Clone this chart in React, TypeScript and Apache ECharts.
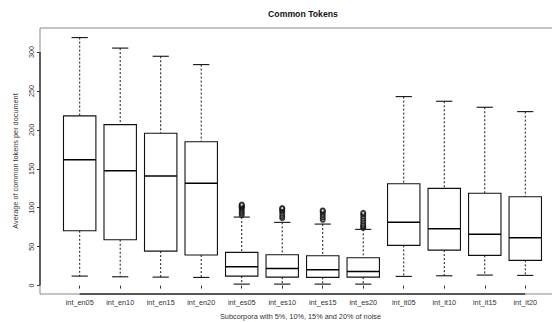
import React, { useEffect, useRef } from "react";
import * as echarts from "echarts";

const categories = [
  "int_en05", "int_en10", "int_en15", "int_en20",
  "int_es05", "int_es10", "int_es15", "int_es20",
  "int_it05", "int_it10", "int_it15", "int_it20",
];
const lowerWhisker = [12.2, 11.3, 10.9, 10.5, 1.9, 1.9, 1.9, 1.9, 11.8, 12.6, 13.5, 13.1];
const firstQuartile = [70.4, 58.9, 44.3, 39.2, 12.2, 10.9, 10.5, 10.9, 51.6, 45.6, 38.8, 32.4];
const medians = [161.7, 147.6, 140.7, 131.3, 24.2, 22.1, 20.3, 18.2, 81.2, 73.0, 65.8, 61.4];
const thirdQuartile = [218.0, 206.7, 195.6, 184.8, 42.7, 39.6, 38.3, 35.8, 130.8, 124.9, 118.5, 114.1];
const upperWhisker = [318.5, 305.0, 294.5, 283.8, 88.0, 81.2, 79.0, 72.2, 242.7, 236.7, 229.0, 223.4];

const outliersEs05 = [90.5, 93, 95.5, 98, 100, 101, 102, 103, 104];
const outliersEs10 = [86.5, 89, 92, 95, 97, 98.5, 99.5];
const outliersEs15 = [84.5, 87.5, 90.5, 93.5, 95.5, 96.5];
const outliersEs20 = [74, 75.5, 77, 79.5, 82.5, 85.5, 88.5, 91.5, 93.5];

const yTicks = [0, 50, 100, 150, 200, 250, 300];

// visible axis range (the plot region continues past the right edge of the picture)
const xRange = [0.02, 12.66];
const yRange = [-10.8, 330.8];

const FONT = "'Liberation Sans', Arial, Helvetica, sans-serif";

export default function App() {
  const ref = useRef<HTMLDivElement>(null);

  useEffect(() => {
    if (!ref.current) return;
    const chart = echarts.init(ref.current, undefined, { renderer: "svg" });

    const positions = categories.map((_, i) => i + 1);
    const boxData = categories.map((_, i) => [
      positions[i],
      lowerWhisker[i],
      firstQuartile[i],
      medians[i],
      thirdQuartile[i],
      upperWhisker[i],
    ]);
    const outlierGroups: [number, number[]][] = [
      [5, outliersEs05],
      [6, outliersEs10],
      [7, outliersEs15],
      [8, outliersEs20],
    ];
    const outlierData: number[][] = [];
    outlierGroups.forEach(([pos, vals]) => vals.forEach((v) => outlierData.push([pos, v])));

    const halfBox = 0.4;
    const halfCap = 0.2;

    const renderBox = (params: any, api: any) => {
      const x = api.value(0);
      const lo = api.value(1);
      const q1 = api.value(2);
      const med = api.value(3);
      const q3 = api.value(4);
      const hi = api.value(5);
      const tl = api.coord([x - halfBox, q3]);
      const br = api.coord([x + halfBox, q1]);
      const mL = api.coord([x - halfBox, med]);
      const mR = api.coord([x + halfBox, med]);
      const cTop = api.coord([x, hi]);
      const cQ3 = api.coord([x, q3]);
      const cQ1 = api.coord([x, q1]);
      const cBot = api.coord([x, lo]);
      const capTL = api.coord([x - halfCap, hi]);
      const capTR = api.coord([x + halfCap, hi]);
      const capBL = api.coord([x - halfCap, lo]);
      const capBR = api.coord([x + halfCap, lo]);
      const solid = { stroke: "#111", lineWidth: 1.1, fill: null };
      const dashed = { stroke: "#111", lineWidth: 1, lineDash: [2, 2], fill: null };
      return {
        type: "group",
        children: [
          { type: "line", shape: { x1: cTop[0], y1: cTop[1], x2: cQ3[0], y2: cQ3[1] }, style: dashed },
          { type: "line", shape: { x1: cQ1[0], y1: cQ1[1], x2: cBot[0], y2: cBot[1] }, style: dashed },
          { type: "line", shape: { x1: capTL[0], y1: capTL[1], x2: capTR[0], y2: capTR[1] }, style: solid },
          { type: "line", shape: { x1: capBL[0], y1: capBL[1], x2: capBR[0], y2: capBR[1] }, style: solid },
          {
            type: "rect",
            shape: { x: tl[0], y: tl[1], width: br[0] - tl[0], height: br[1] - tl[1] },
            style: { stroke: "#111", lineWidth: 1.1, fill: "#fff" },
          },
          { type: "line", shape: { x1: mL[0], y1: mL[1], x2: mR[0], y2: mR[1] }, style: { stroke: "#000", lineWidth: 1.5 } },
        ],
      };
    };

    const xNameText = {
      id: "xname",
      type: "text",
      left: 220,
      top: 313,
      style: {
        text: "Subcorpora with 5%, 10%, 15% and 20% of noise",
        fontFamily: FONT,
        fontSize: 7.3,
        fill: "#333",
      },
    };

    chart.setOption({
      animation: false,
      backgroundColor: "#fff",
      textStyle: { fontFamily: FONT },
      title: {
        text: "Common Tokens",
        left: 303,
        top: 9,
        padding: 0,
        textAlign: "center",
        textStyle: { fontFamily: FONT, fontSize: 8.7, fontWeight: "bold", color: "#111" },
      },
      graphic: [xNameText],
      grid: {
        left: 40,
        top: 28,
        bottom: 28,
        right: 0,
        containLabel: false,
        outerBoundsMode: "none",
        show: false,
      },
      xAxis: {
        type: "value",
        min: xRange[0],
        max: xRange[1],
        axisLine: { show: false, lineStyle: { color: "#333" } },
        splitLine: { show: false },
        axisTick: {
          show: true,
          length: 3,
          customValues: positions,
          lineStyle: { color: "#333", width: 1 },
        },
        axisLabel: {
          show: true,
          customValues: positions,
          margin: 5,
          fontFamily: FONT,
          fontSize: 7.3,
          color: "#333",
          formatter: (v: number) => categories[Math.round(v) - 1] ?? "",
        },
      },
      yAxis: {
        type: "value",
        min: yRange[0],
        max: yRange[1],
        name: "Average of common tokens per document",
        nameLocation: "middle",
        nameRotate: 90,
        nameGap: 21,
        nameTextStyle: { fontFamily: FONT, fontSize: 7.3, color: "#333" },
        axisLine: { show: false, lineStyle: { color: "#333" } },
        splitLine: { show: false },
        axisTick: {
          show: true,
          length: 3,
          customValues: yTicks,
          lineStyle: { color: "#333", width: 1 },
        },
        axisLabel: {
          show: true,
          customValues: yTicks,
          rotate: 90,
          margin: 5,
          fontFamily: FONT,
          fontSize: 7.3,
          color: "#333",
        },
      },
      series: [
        {
          type: "custom",
          name: "boxes",
          data: boxData,
          encode: { x: 0, y: [1, 2, 3, 4, 5] },
          renderItem: renderBox,
          z: 2,
        },
        {
          type: "scatter",
          name: "outliers",
          data: outlierData,
          symbol: "emptyCircle",
          symbolSize: 4,
          itemStyle: { color: "#111", borderColor: "#111", borderWidth: 1 },
          z: 3,
        },
      ],
    });

    // R-style frame (open to the right where the picture is cut) and axis lines, via the chart's own scales
    const tl = chart.convertToPixel({ gridIndex: 0 }, [xRange[0], yRange[1]]) as number[];
    const br = chart.convertToPixel({ gridIndex: 0 }, [xRange[1], yRange[0]]) as number[];
    const yA = chart.convertToPixel({ gridIndex: 0 }, [1, yTicks[0]]) as number[];
    const yB = chart.convertToPixel({ gridIndex: 0 }, [1, yTicks[yTicks.length - 1]]) as number[];
    const xA = chart.convertToPixel({ gridIndex: 0 }, [positions[0], 0]) as number[];
    const xB = chart.convertToPixel({ gridIndex: 0 }, [positions[positions.length - 1], 0]) as number[];
    const frame = { stroke: "#888", lineWidth: 1 };
    const dark = { stroke: "#333", lineWidth: 1.4 };
    chart.setOption({
      graphic: [
        xNameText,
        { id: "fTop", type: "line", z: 1, shape: { x1: tl[0], y1: tl[1], x2: br[0] + 2, y2: tl[1] }, style: frame },
        { id: "fLeft", type: "line", z: 1, shape: { x1: tl[0], y1: tl[1], x2: tl[0], y2: br[1] }, style: frame },
        { id: "fBottom", type: "line", z: 1, shape: { x1: tl[0], y1: br[1], x2: br[0] + 2, y2: br[1] }, style: frame },
        { id: "aY", type: "line", z: 1, shape: { x1: tl[0], y1: yA[1], x2: tl[0], y2: yB[1] }, style: dark },
        { id: "aX", type: "line", z: 1, shape: { x1: xA[0], y1: br[1], x2: xB[0], y2: br[1] }, style: dark },
      ],
    });

    return () => chart.dispose();
  }, []);

  return (
    <div
      ref={ref}
      style={{ position: "fixed", left: 0, top: 0, width: 552, height: 322, background: "#fff" }}
    />
  );
}
